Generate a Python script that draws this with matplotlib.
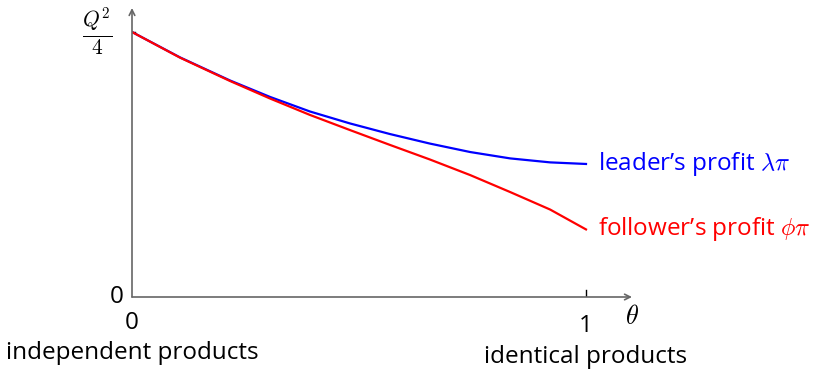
import matplotlib
matplotlib.use("Agg")
import matplotlib.pyplot as plt

plt.rcParams['font.family'] = ['Open Sans', 'DejaVu Sans']
plt.rcParams['mathtext.fontset'] = 'cm'

# theta from 0 (independent) to 1 (identical), profits in units of Q^2/4
theta = [0, 0.106, 0.216, 0.304, 0.392, 0.480, 0.568, 0.656, 0.745, 0.833, 0.921, 1.0]
leader = [1.0, 0.904, 0.817, 0.755, 0.700, 0.655, 0.615, 0.579, 0.547, 0.523, 0.508, 0.502]
follower = [1.0, 0.903, 0.815, 0.749, 0.687, 0.630, 0.574, 0.519, 0.460, 0.396, 0.330, 0.255]

fig = plt.figure(figsize=(8.14, 3.72), dpi=100)
ax = fig.add_axes([132/814, 75/372, 500/814, 289/372])
ax.set_xlim(0, 500/454)
ax.set_ylim(0, 289/265)
ax.axis('off')

axc = '#666666'
ax.annotate('', xy=(500/454, 0), xytext=(0, 0),
            arrowprops=dict(arrowstyle='->', color=axc, lw=1.2, shrinkA=0, shrinkB=0))
ax.annotate('', xy=(0, 289/265), xytext=(0, 0),
            arrowprops=dict(arrowstyle='->', color=axc, lw=1.2, shrinkA=0, shrinkB=0))
# ticks
ax.plot([-8/454, 3/454], [1, 1], color='black', lw=1.0)
ax.plot([1, 1], [-8/265, 7/265], color='black', lw=1.0)

ax.plot(theta, leader, color='#0000ff', lw=1.6)
ax.plot(theta, follower, color='#ff0000', lw=1.6)

fs = 17.5
ax.text(-35/454, 1, r'$\frac{Q^2}{4}$', fontsize=22, ha='center', va='center')
ax.text(-15/454, 0, '0', fontsize=fs, ha='center', va='center')
ax.text(0, -26/265, '0', fontsize=fs, ha='center', va='center')
ax.text(1, -29/265, '1', fontsize=fs, ha='center', va='center')
ax.text(500/454, -20/265, r'$\theta$', fontsize=19, ha='center', va='center')
ax.text(0, -56/265, 'independent products', fontsize=fs, ha='center', va='center')
ax.text(1, -60/265, 'identical products', fontsize=fs, ha='center', va='center')

ax.text(1 + 12/454, leader[-1], 'leader\u2019s profit $\\lambda\\pi$', fontsize=fs,
        color='#0000ff', ha='left', va='center')
ax.text(1 + 12/454, follower[-1], 'follower\u2019s profit $\\phi\\pi$', fontsize=fs,
        color='#ff0000', ha='left', va='center')

fig.savefig('out.png', dpi=100)
